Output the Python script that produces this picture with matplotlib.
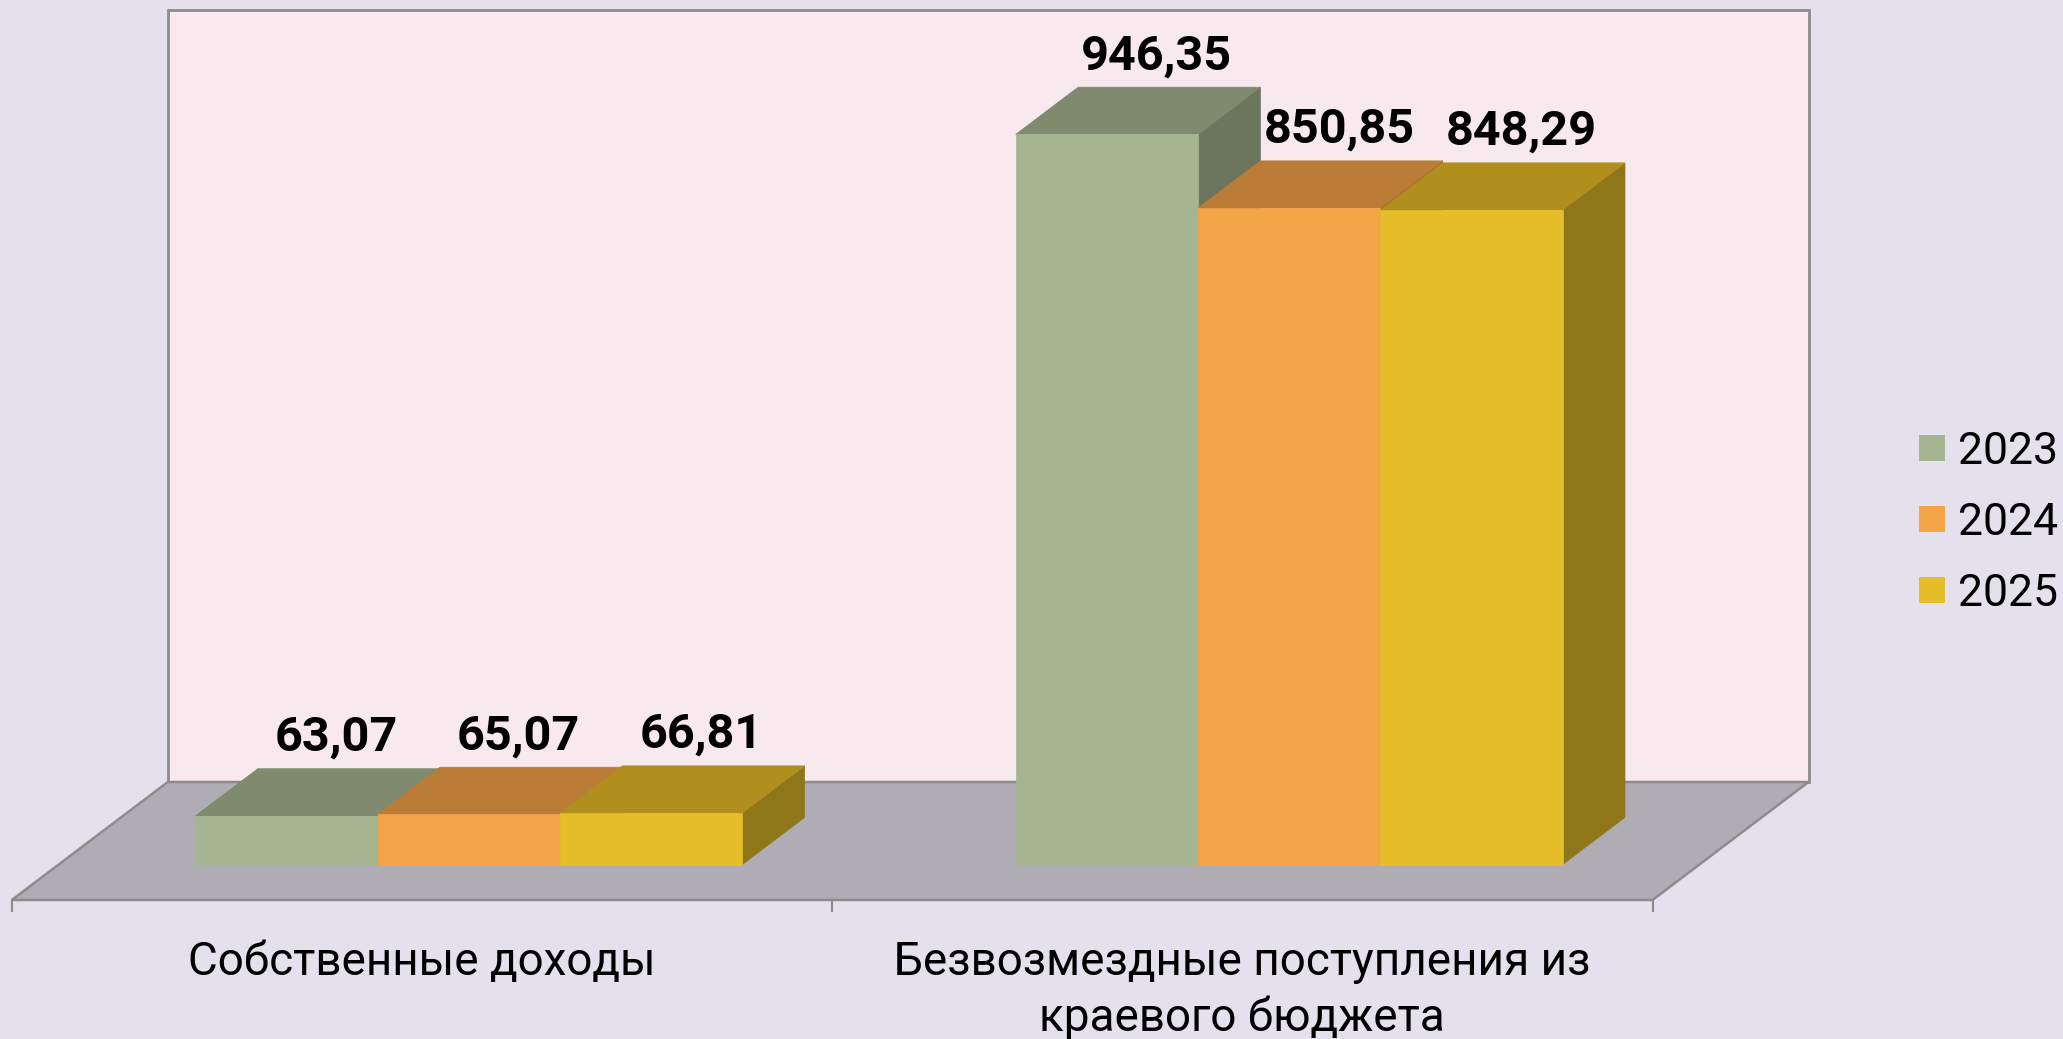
import matplotlib
matplotlib.use('Agg')
import matplotlib.pyplot as plt
from matplotlib.patches import Polygon, Rectangle

plt.rcParams['font.family'] = ['Roboto', 'DejaVu Sans']

# data
categories = ['Собственные доходы', 'Безвозмездные поступления из\nкраевого бюджета']
years = ['2023', '2024', '2025']
values_2023 = [63.07, 946.35]
values_2024 = [65.07, 850.85]
values_2025 = [66.81, 848.29]
series = [values_2023, values_2024, values_2025]
y_max = 1000

front_colors = ['#A5B592', '#F2A446', '#E5BE2A']
top_colors = ['#7F8A6F', '#BA7C37', '#B08F1F']
side_colors = ['#6B765D', '#A36C30', '#8F7619']

W, H = 2063, 1039
px_x = 820.35      # pixels per category
px_y = 0.7716      # pixels per value unit

fig = plt.figure(figsize=(W / 100, H / 100), dpi=100, facecolor='#E4E0EC')
ax = fig.add_axes([0, 0, 1, 1])
ax.axis('off')
x_left = -0.5 - 11.8 / px_x
y_bottom = -(H - 900) / px_y
ax.set_xlim(x_left, x_left + W / px_x)
ax.set_ylim(y_bottom, y_bottom + H / px_y)

# oblique depth vector for the whole floor depth
DX = 156 / px_x
DY = 118 / px_y
bar_depth = 0.40
z0 = (1 - bar_depth) / 2
z1 = z0 + bar_depth
bar_w = 2 / 9


def proj(x, y, z):
    return (x + z * DX, y + z * DY)


edge = '#8C8C8C'
n_cat = len(categories)
# back wall
wall = [proj(-0.5, 0, 1), proj(n_cat - 0.5, 0, 1), proj(n_cat - 0.5, y_max, 1), proj(-0.5, y_max, 1)]
ax.add_patch(Polygon(wall, closed=True, facecolor='#F7E9EE', edgecolor=edge, lw=2, zorder=1))
# floor
floor = [proj(-0.5, 0, 0), proj(n_cat - 0.5, 0, 0), proj(n_cat - 0.5, 0, 1), proj(-0.5, 0, 1)]
ax.add_patch(Polygon(floor, closed=True, facecolor='#AFADB3', edgecolor=edge, lw=1.8, zorder=2))
# ticks
for t in range(n_cat + 1):
    ax.plot([t - 0.5, t - 0.5], [0, -14], color=edge, lw=1.5, zorder=2)

# bars
for c in range(n_cat):
    for i, vals in enumerate(series):
        v = vals[c]
        xl = c - 1 / 3 + i * bar_w
        xr = xl + bar_w
        side = [proj(xr, 0, z0), proj(xr, v, z0), proj(xr, v, z1), proj(xr, 0, z1)]
        top = [proj(xl, v, z0), proj(xr, v, z0), proj(xr, v, z1), proj(xl, v, z1)]
        front = [proj(xl, 0, z0), proj(xr, 0, z0), proj(xr, v, z0), proj(xl, v, z0)]
        ax.add_patch(Polygon(side, closed=True, facecolor=side_colors[i], edgecolor=side_colors[i], lw=0.5, zorder=3))
        ax.add_patch(Polygon(top, closed=True, facecolor=top_colors[i], edgecolor=top_colors[i], lw=0.5, zorder=3))
        ax.add_patch(Polygon(front, closed=True, facecolor=front_colors[i], edgecolor=front_colors[i], lw=0.5, zorder=3))
        lx, ly = proj(xl + bar_w / 2, v, z1)
        lx -= 0.2 * bar_depth * DX
        ax.text(lx, ly + 18 / px_y, ('%.2f' % v).replace('.', ','), ha='center', va='baseline',
                fontsize=35, fontweight='bold', color='black', zorder=5)

# category labels
for c, name in enumerate(categories):
    ax.text(c, -(940 - 900) / px_y, name, ha='center', va='top', fontsize=33,
            linespacing=1.33, color='black')

# legend
for i, yr in enumerate(years):
    fig.add_artist(Rectangle((1919 / W, 1 - (461 + 71 * i) / H), 26 / W, 26 / H,
                             transform=fig.transFigure, facecolor=front_colors[i], edgecolor='none'))
    fig.text(1958 / W, 1 - (464 + 71 * i) / H, yr, ha='left', va='baseline', fontsize=32,
             color='black')

fig.savefig('out.png', dpi=100, facecolor=fig.get_facecolor())
